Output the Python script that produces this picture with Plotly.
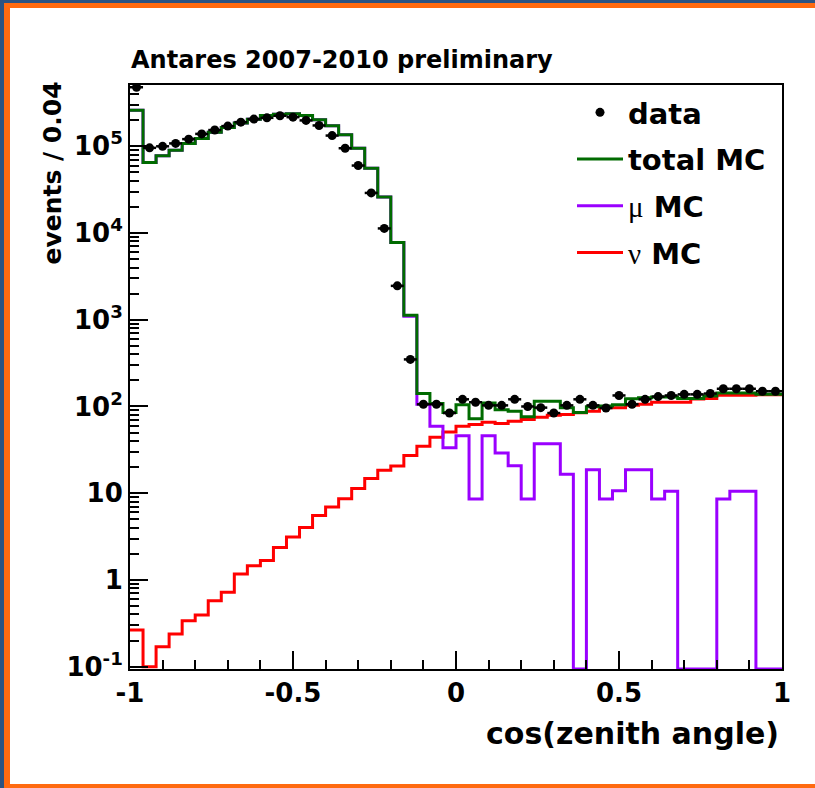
import numpy as np
import plotly.graph_objects as go

# ---------------- data ----------------
x_lo, x_hi, n_bins = -1.0, 1.0, 50

data_counts = [4.8e5, 9.6e4, 1.0e5, 1.08e5, 1.21e5, 1.39e5, 1.54e5, 1.71e5, 1.9e5, 2.06e5,
               2.13e5, 2.25e5, 2.17e5, 1.99e5, 1.74e5, 1.33e5, 9.5e4, 6.0e4, 2.9e4, 1.13e4,
               2460, 349, 106, 106, 84, 121, 112, 103, 103, 121,
               100, 97, 84, 103, 121, 103, 96, 134, 106, 121,
               130, 134, 138, 138, 141, 160, 160, 160, 150, 150]

total_mc = [2.6e5, 6.5e4, 7.8e4, 9.0e4, 1.08e5, 1.23e5, 1.45e5, 1.65e5, 1.86e5, 2.05e5,
            2.26e5, 2.35e5, 2.38e5, 2.26e5, 2.02e5, 1.73e5, 1.36e5, 9.5e4, 5.6e4, 2.6e4,
            7.8e3, 1.13e3, 141, 108, 85, 105, 72, 110, 92, 88,
            76, 115, 115, 97, 85, 99, 101, 105, 123, 126,
            129, 129, 124, 124, 132, 143, 143, 143, 138, 138]

mu_mc = [2.6e5, 6.5e4, 7.8e4, 9.0e4, 1.08e5, 1.23e5, 1.45e5, 1.65e5, 1.86e5, 2.05e5,
         2.26e5, 2.35e5, 2.38e5, 2.26e5, 2.02e5, 1.73e5, 1.36e5, 9.5e4, 5.6e4, 2.6e4,
         7.8e3, 1.1e3, 106, 59, 33.5, 46, 8.6, 46, 29, 20.8,
         8.6, 37.3, 37.3, 16.5, 0, 18.7, 8.6, 10.7, 18.7, 18.7,
         8.6, 10.5, 0, 0, 0, 8.6, 10.5, 10.5, 0, 0]

nu_mc = [0.264, 0.1, 0.17, 0.238, 0.339, 0.394, 0.577, 0.72, 1.17, 1.46,
         1.67, 2.37, 3.12, 4.03, 5.54, 6.92, 8.64, 11.3, 14.8, 18.4,
         20.6, 27.2, 34.8, 44.2, 50.9, 59, 62, 65.8, 63.5, 67.6,
         70.8, 75, 79.4, 80.8, 84.6, 88.3, 96.6, 96.6, 103, 106,
         112, 112, 112, 122, 124, 135, 135, 135, 137, 137]

y_tick_vals = [0.1, 1, 10, 100, 1e3, 1e4, 1e5]
y_tick_text = ["10<sup>-1</sup>", "1", "10", "10<sup>2</sup>", "10<sup>3</sup>",
               "10<sup>4</sup>", "10<sup>5</sup>"]
x_tick_vals = [-1, -0.5, 0, 0.5, 1]
x_tick_text = ["-1", "-0.5", "0", "0.5", "1"]

# ---------------- layout geometry ----------------
W, H = 815, 788
L, R, T, B = 130, 33, 85, 119
PW, PH = W - L - R, H - T - B
y_log_range = [-1.027, 5.707]
y_floor = 10 ** y_log_range[0]

FONT = "DejaVu Sans"


def px(xp):
    return (xp - L) / PW


def py(yp):
    return (H - B - yp) / PH


edges = np.linspace(x_lo, x_hi, n_bins + 1)
centers = 0.5 * (edges[:-1] + edges[1:])
half_w = 0.5 * (edges[1] - edges[0])


def step(vals):
    v = np.asarray(vals, dtype=float)
    v = np.where(v > 0, v, y_floor)
    return edges, np.append(v, v[-1])


GREEN = "#006b00"
PURPLE = "#9a00ff"
RED = "#ff0000"

fig = go.Figure()

sx, sy = step(nu_mc)
fig.add_trace(go.Scatter(x=sx, y=sy, mode="lines", line=dict(color=RED, width=3, shape="hv"),
                         name="<span style='font-family:Liberation Serif;font-weight:normal'>ν</span> MC",
                         legendrank=4, legendgroup="d"))
sx, sy = step(mu_mc)
fig.add_trace(go.Scatter(x=sx, y=sy, mode="lines", line=dict(color=PURPLE, width=3, shape="hv"),
                         name="<span style='font-family:Liberation Serif;font-weight:normal'>μ</span> MC",
                         legendrank=3, legendgroup="c"))
sx, sy = step(total_mc)
fig.add_trace(go.Scatter(x=sx, y=sy, mode="lines", line=dict(color=GREEN, width=3, shape="hv"),
                         name="total MC", legendrank=2, legendgroup="b"))
fig.add_trace(go.Scatter(x=centers, y=data_counts, mode="markers",
                         marker=dict(color="black", size=9, symbol="circle"),
                         error_x=dict(type="constant", value=half_w, color="black", thickness=2.5, width=0),
                         name="data", legendrank=1, legendgroup="a"))

# minor tick positions for the log axis (2..9 in each decade)
y_minor = [m * 10.0 ** d for d in range(-2, 6) for m in range(2, 10)]

fig.update_layout(
    width=W, height=H,
    margin=dict(l=L, r=R, t=T, b=B),
    paper_bgcolor="white", plot_bgcolor="white",
    showlegend=True,
    legend=dict(x=px(572), y=py(87), xanchor="left", yanchor="top",
                font=dict(family=FONT, size=29, color="black", weight="bold"),
                bgcolor="rgba(0,0,0,0)", borderwidth=0, tracegroupgap=6,
                itemwidth=46, traceorder="grouped"),
    xaxis=dict(range=[x_lo, x_hi], tickmode="array", tickvals=x_tick_vals, ticktext=x_tick_text,
               ticks="inside", ticklen=18, tickwidth=1.5, tickcolor="black",
               minor=dict(ticks="inside", ticklen=9, tickwidth=1.5, tickcolor="black",
                          dtick=0.1, tick0=0, showgrid=False),
               showgrid=False, zeroline=False, showline=True, mirror=True,
               linecolor="black", linewidth=2,
               tickfont=dict(family=FONT, size=26, color="black", weight="bold")),
    yaxis=dict(type="log", range=y_log_range, tickmode="array", tickvals=y_tick_vals,
               ticktext=y_tick_text,
               ticks="inside", ticklen=18, tickwidth=1.5, tickcolor="black",
               minor=dict(ticks="inside", ticklen=9, tickwidth=1.5, tickcolor="black",
                          tickmode="array", tickvals=y_minor, showgrid=False),
               showgrid=False, zeroline=False, showline=True, mirror=True,
               linecolor="black", linewidth=2,
               tickfont=dict(family=FONT, size=26, color="black", weight="bold")),
)

fig.add_annotation(text="Antares 2007-2010 preliminary", xref="paper", yref="paper",
                   x=px(129), y=py(60), xanchor="left", yanchor="middle", showarrow=False,
                   font=dict(family=FONT, size=24, color="black", weight="bold"))
fig.add_annotation(text="cos(zenith angle)", xref="paper", yref="paper",
                   x=px(781), y=py(733), xanchor="right", yanchor="middle", showarrow=False,
                   font=dict(family=FONT, size=30, color="black", weight="bold"))
fig.add_annotation(text="events / 0.04", xref="paper", yref="paper", textangle=-90,
                   x=px(52), y=py(80), xanchor="center", yanchor="top", showarrow=False,
                   font=dict(family=FONT, size=25, color="black", weight="bold"))

# slide frame (blue outer edge, orange inner edge)
BLUE = "#2b5382"
ORANGE = "#ff6a10"
for (x0, y0, x1, y1, c) in [
    (0, 0, W, 3, BLUE), (0, 3, W, 8, ORANGE),
    (0, 0, 4, H, BLUE), (4, 8, 10, H, ORANGE),
    (4, H - 4, W, H, ORANGE),
]:
    fig.add_shape(type="rect", xref="paper", yref="paper",
                  x0=px(x0), x1=px(x1), y0=py(y1), y1=py(y0),
                  fillcolor=c, line=dict(width=0), layer="above")

fig.write_html("out.html")
